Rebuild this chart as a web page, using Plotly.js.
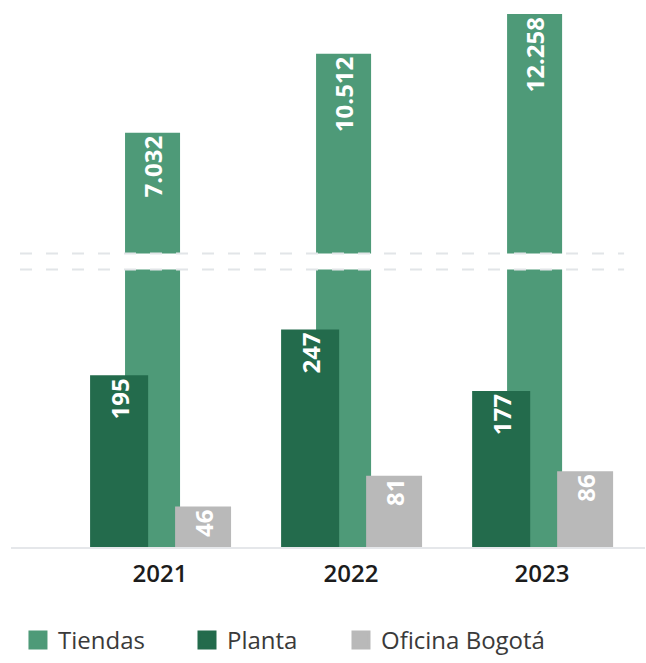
<!DOCTYPE html>
<html>
<head>
<meta charset="utf-8">
<script src="https://cdn.plot.ly/plotly-3.0.1.min.js"></script>
<style>
  html, body { margin: 0; padding: 0; background: #ffffff; }
  #chart { width: 646px; height: 663px; }
</style>
</head>
<body>
<div id="chart"></div>
<script>
// ---- data ----
const years = ['2021', '2022', '2023'];
const tiendas = [7032, 10512, 12258];
const planta = [195, 247, 177];
const oficina = [46, 81, 86];
const seriesNames = ['Tiendas', 'Planta', 'Oficina Bogotá'];

// ---- styles ----
const cTiendas = '#4e9a78';
const cPlanta = '#236b4c';
const cOficina = '#b9b9b9';
const labelFont = { family: 'Open Sans, sans-serif', size: 24, color: '#ffffff', weight: 700 };

const traces = [
  // Tiendas: lower (clipped) part
  {
    type: 'bar', x: years, y: tiendas, xaxis: 'x', yaxis: 'y',
    marker: { color: cTiendas }, width: 0.288, offset: -0.183,
    showlegend: false, hoverinfo: 'skip', textposition: 'none'
  },
  // Tiendas: upper part with labels
  {
    type: 'bar', x: years, y: tiendas, xaxis: 'x', yaxis: 'y2',
    marker: { color: cTiendas }, width: 0.288, offset: -0.183,
    showlegend: false, texttemplate: '%{y:,}', textposition: 'inside',
    insidetextanchor: 'end', textangle: -90, textfont: labelFont, cliponaxis: true
  },
  // Planta
  {
    type: 'bar', x: years, y: planta, xaxis: 'x', yaxis: 'y',
    marker: { color: cPlanta }, width: 0.304, offset: -0.366,
    showlegend: false, texttemplate: '%{y}', textposition: 'inside',
    insidetextanchor: 'end', textangle: -90, textfont: labelFont
  },
  // Oficina Bogotá
  {
    type: 'bar', x: years, y: oficina, xaxis: 'x', yaxis: 'y',
    marker: { color: cOficina }, width: 0.293, offset: 0.079,
    showlegend: false, texttemplate: '%{y}', textposition: 'inside',
    insidetextanchor: 'end', textangle: -90, textfont: labelFont
  }
];

// legend entries (one legend per entry for exact placement)
const legendIds = ['legend', 'legend2', 'legend3'];
[cTiendas, cPlanta, cOficina].forEach((c, i) => {
  traces.push({
    type: 'scatter', mode: 'markers', x: [null], y: [null], name: seriesNames[i],
    legend: legendIds[i],
    marker: { symbol: 'square', size: 16, color: c, line: { color: c, width: 3 } },
    hoverinfo: 'skip'
  });
});

const legendBase = {
  orientation: 'h', xanchor: 'left', y: -0.173, yanchor: 'middle',
  font: { family: 'Open Sans, sans-serif', size: 24, color: '#3a3a3a' },
  itemclick: false, bgcolor: 'rgba(0,0,0,0)'
};

const dash = { color: '#e2e5e8', width: 2, dash: '12px,14px' };

const layout = {
  width: 646, height: 663,
  margin: { l: 11, r: 1, t: 10, b: 115 },
  paper_bgcolor: '#ffffff', plot_bgcolor: '#ffffff',
  separators: ',.',
  barmode: 'overlay',
  showlegend: true,
  legend: Object.assign({}, legendBase, { x: 0.011 }),
  legend2: Object.assign({}, legendBase, { x: 0.2776 }),
  legend3: Object.assign({}, legendBase, { x: 0.5205 }),
  xaxis: {
    type: 'category', range: [-0.78, 2.539], anchor: 'y',
    showline: true, linecolor: '#e5e7ea', linewidth: 2,
    showgrid: false, zeroline: false, ticks: '',
    tickfont: { family: 'Open Sans, sans-serif', size: 24, color: '#1c1c1c', weight: 600 },
    ticklabelstandoff: 4, fixedrange: true
  },
  yaxis: {
    domain: [0, 0.5167], range: [0, 315],
    showticklabels: false, showgrid: false, zeroline: false, showline: false, fixedrange: true
  },
  yaxis2: {
    domain: [0.5465, 1], range: [1715, 12434], anchor: 'x',
    showticklabels: false, showgrid: false, zeroline: false, showline: false, fixedrange: true
  },
  shapes: [
    { type: 'line', xref: 'paper', yref: 'paper', x0: 0.0142, x1: 0.967, y0: 0.5465, y1: 0.5465, line: dash, layer: 'above' },
    { type: 'line', xref: 'paper', yref: 'paper', x0: 0.0142, x1: 0.967, y0: 0.5167, y1: 0.5167, line: dash, layer: 'above' }
  ]
};

Plotly.newPlot('chart', traces, layout, { displayModeBar: false, staticPlot: true });
</script>
</body>
</html>
